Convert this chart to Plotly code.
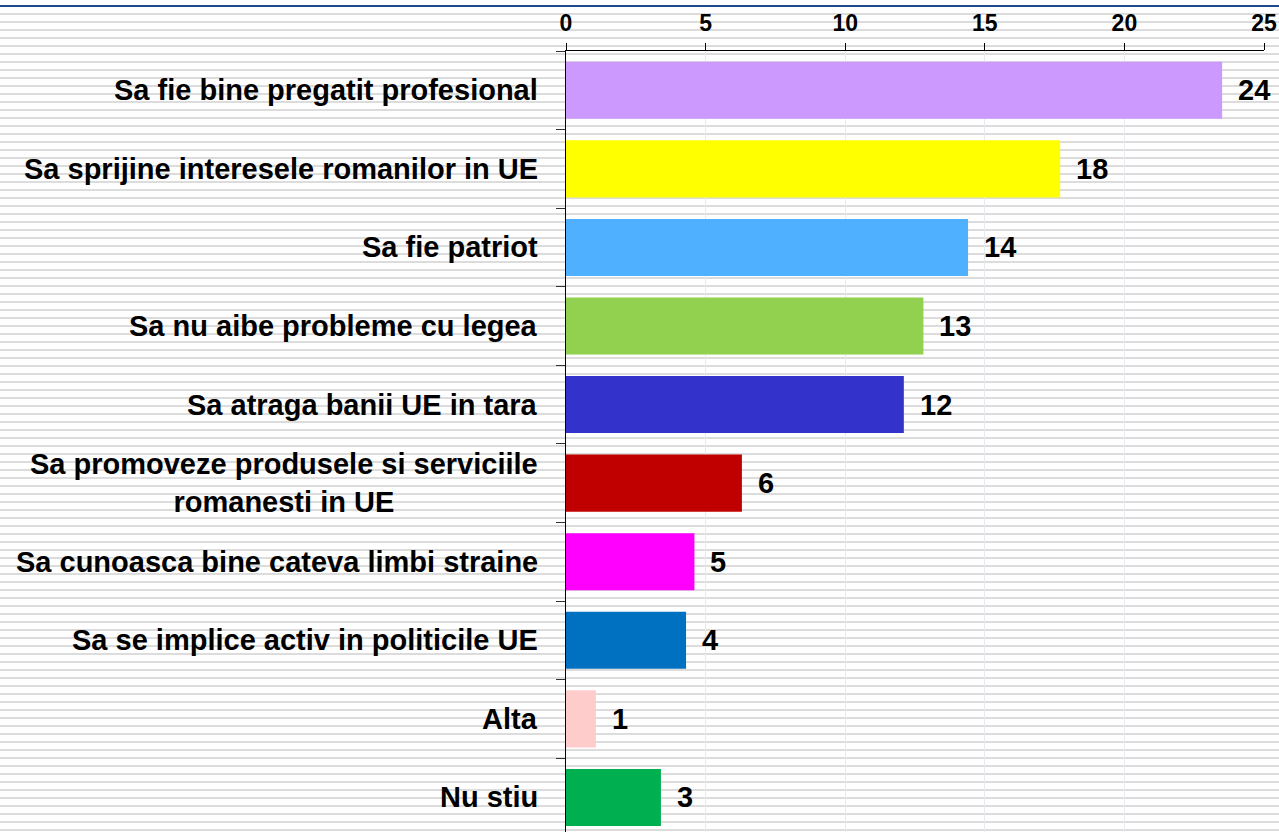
import plotly.graph_objects as go

categories = [
    "Sa fie bine pregatit profesional",
    "Sa sprijine interesele romanilor in UE",
    "Sa fie patriot",
    "Sa nu aibe probleme cu legea",
    "Sa atraga banii UE in tara",
    "Sa promoveze produsele si serviciile<br>romanesti in UE",
    "Sa cunoasca bine cateva limbi straine",
    "Sa se implice activ in politicile UE",
    "Alta",
    "Nu stiu",
]
values = [23.5, 17.7, 14.4, 12.8, 12.1, 6.3, 4.6, 4.3, 1.07, 3.4]
labels = ["24", "18", "14", "13", "12", "6", "5", "4", "1", "3"]
colors = ["#cc99ff", "#ffff00", "#4fb0ff", "#92d050", "#3333cc",
          "#c00000", "#ff00ff", "#0070c0", "#ffcccc", "#00b050"]
x_ticks = [0, 5, 10, 15, 20, 25]

W, H = 1279, 832
ML, MR, MT, MB = 566, 15, 51, 0
PH = H - MT - MB

FONT = "Liberation Sans, Arial, sans-serif"

fig = go.Figure()
fig.add_trace(go.Bar(
    x=values, y=list(range(len(categories))), orientation="h",
    marker=dict(color=colors, line=dict(width=0)),
    width=0.726, hoverinfo="skip",
))

# value labels
for i, (v, t) in enumerate(zip(values, labels)):
    fig.add_annotation(x=v, y=i, xref="x", yref="y", text=t, showarrow=False,
                       xanchor="left", yanchor="middle", xshift=14,
                       font=dict(family=FONT, size=29, color="black", weight="bold"))

# category labels
for i, c in enumerate(categories):
    fig.add_annotation(x=0, y=i, xref="paper", yref="y", text=c, showarrow=False,
                       xanchor="right", yanchor="middle", xshift=-26, align="center",
                       font=dict(family=FONT, size=29, color="black", weight="bold"))

# background stripes (decoration)
shapes = []
ypx = 13
while ypx < H:
    y0 = (H - MB - (ypx + 2)) / PH
    y1 = (H - MB - ypx) / PH
    shapes.append(dict(type="rect", xref="paper", yref="paper", x0=-1, x1=1.1,
                       y0=y0, y1=y1, fillcolor="#dcdcdc", line=dict(width=0),
                       layer="below"))
    ypx += 8
# top blue line
shapes.append(dict(type="rect", xref="paper", yref="paper", x0=-1, x1=1.1,
                   y0=(H - MB - 7) / PH, y1=(H - MB - 5) / PH,
                   fillcolor="#1c4b8c", line=dict(width=0), layer="above"))

fig.update_layout(
    width=W, height=H,
    margin=dict(l=ML, r=MR, t=MT, b=MB, pad=0),
    paper_bgcolor="white", plot_bgcolor="rgba(0,0,0,0)",
    showlegend=False, shapes=shapes, hovermode=False,
    xaxis=dict(side="top", range=[0, 25], tickvals=x_ticks,
               ticks="outside", ticklen=7, tickcolor="black",
               showline=True, linecolor="black", linewidth=1,
               showgrid=True, gridcolor="#e6eaf0", gridwidth=1,
               zeroline=False, ticklabelstandoff=3,
               tickfont=dict(family=FONT, size=23, color="black", weight="bold")),
    yaxis=dict(range=[9.44, -0.5], tickvals=[i - 0.5 for i in range(11)],
               ticktext=[""] * 11, ticks="outside", ticklen=9, tickcolor="#333333",
               showline=True, linecolor="black", linewidth=1,
               showgrid=False, zeroline=False),
)

fig.write_html("out.html", config={"displayModeBar": False},
               post_script="document.body.style.margin='0';document.body.style.overflow='hidden';")
